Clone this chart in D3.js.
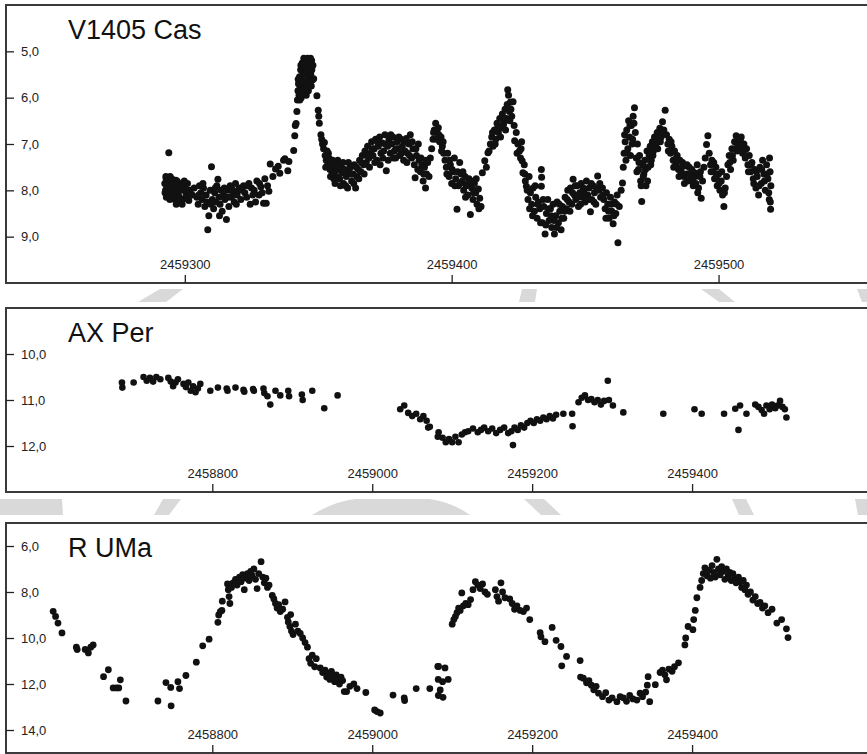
<!DOCTYPE html>
<html>
<head>
<meta charset="utf-8">
<script src="https://cdn.jsdelivr.net/npm/d3@7/dist/d3.min.js"></script>
<style>
  body { margin: 0; background: #fff; }
  text { font-family: "Liberation Sans", Arial, sans-serif; }
</style>
</head>
<body>
<div id="chart"></div>
<script>
// Light curves: [JD, magnitude]
const casData = [
  [2459292.5,7.85],[2459292.8,8.0],[2459293,7.75],[2459293.2,7.95],[2459293.5,8.1],[2459293.8,7.88],[2459294,7.19],[2459294.2,8.05],
  [2459294.5,7.7],[2459294.8,7.92],[2459295,8.15],[2459295.3,7.82],[2459295.6,8.0],[2459296,7.9],[2459296.3,8.2],[2459296.6,7.78],
  [2459297,8.05],[2459297.3,7.95],[2459297.7,8.12],[2459298,7.85],[2459298.4,8.25],[2459298.8,8.0],[2459299.2,7.9],[2459299.6,8.18],
  [2459300,7.95],[2459300.5,8.08],[2459301,7.85],[2459301.5,8.22],[2459302,8.0],[2459302.8,8.1],[2459303.5,7.95],
  [2459304.5,8.15],[2459305,8.3],[2459305.5,7.9],[2459306,8.05],[2459306.5,8.2],[2459307,7.95],[2459307.5,8.35],[2459308,8.1],
  [2459308.6,8.85],[2459309,8.55],[2459309.5,8.0],[2459310,7.49],[2459310.3,8.2],[2459310.8,8.4],[2459311.2,8.05],[2459311.6,8.25],
  [2459312,7.9],[2459312.4,7.76],[2459312.8,8.15],[2459313.2,8.3],[2459313.6,8.0],[2459314,8.45],[2459314.5,8.1],[2459315,8.2],
  [2459315.6,8.63],[2459316,8.0],[2459316.5,8.35],[2459317,7.9],[2459317.5,8.15],[2459318,8.05],[2459318.5,8.25],[2459319,7.85],
  [2459319.6,8.1],[2459320,8.0],[2459320.5,7.95],[2459321,8.2],[2459322,7.9],[2459322.5,8.05],[2459323.2,8.15],[2459324,7.85],
  [2459324.5,8.3],[2459325,7.95],[2459326,8.0],[2459326.5,8.25],[2459327,7.8],[2459327.8,8.1],[2459328.5,7.92],[2459329,8.05],
  [2459329.5,8.28],[2459330,7.75],[2459330.5,8.28],[2459331,7.9],
  [2459332,7.43],[2459333,7.7],[2459334,7.54],[2459335,7.48],[2459335.6,7.63],[2459337,7.35],[2459337.5,7.32],[2459338.6,7.58],
  [2459339,7.38],[2459340.8,7.14],[2459341.2,6.82],[2459341.4,6.6],[2459341.7,6.56],[2459342,6.3],
  [2459342.2,6.05],[2459342.4,5.85],[2459342.6,5.7],[2459342.8,5.95],[2459343,5.55],[2459343.2,5.8],[2459343.4,5.4],[2459343.6,6.0],
  [2459343.8,5.6],[2459344,5.25],[2459344.2,5.75],[2459344.4,5.45],[2459344.6,5.15],[2459344.8,5.9],[2459345,5.35],[2459345.2,5.65],
  [2459345.4,5.2],[2459345.6,5.5],[2459345.8,5.8],[2459346,5.15],[2459346.2,5.4],[2459346.4,5.6],[2459346.6,5.25],[2459346.8,5.7],
  [2459347,5.35],[2459347.2,5.5],[2459347.5,5.2],[2459347.8,5.62],
  [2459348.3,5.59],[2459349.5,5.96],[2459350,6.27],[2459350.2,6.4],[2459350.4,6.55],[2459351,6.8],[2459351.3,6.9],[2459351.6,7.0],
  [2459352,7.1],[2459352.3,6.97],[2459352.6,7.25],[2459353,7.35],[2459353.3,7.15],[2459353.6,7.45],[2459354,7.3],[2459354.4,7.55],
  [2459354.8,7.4],[2459355.2,7.65],[2459355.6,7.5],
  [2459356,7.6],[2459356.5,7.42],[2459357,7.7],[2459357.5,7.55],[2459358,7.75],[2459358.5,7.48],[2459359,7.62],[2459359.5,7.85],
  [2459360,7.55],[2459360.5,7.7],[2459361,7.95],[2459361.5,7.6],[2459362,7.5],[2459362.5,7.8],[2459363,7.65],[2459363.5,7.45],
  [2459364,7.95],[2459364.5,7.7],[2459365,7.55],
  [2459365.5,7.35],[2459366,7.6],[2459366.5,7.25],[2459367,7.45],[2459367.5,7.15],[2459368,7.4],[2459368.5,7.05],[2459369,7.3],
  [2459369.5,7.2],[2459370,6.95],[2459370.5,7.25],[2459371,7.1],[2459371.5,6.9],[2459372,7.35],[2459372.5,7.05],[2459373,6.85],
  [2459373.5,7.2],[2459374,6.98],[2459374.5,7.15],[2459375,6.8],[2459375.5,7.58],[2459376,7.05],[2459376.5,6.9],[2459377,7.2],
  [2459377.5,7.0],[2459378,6.85],[2459378.5,7.15],[2459379,7.3],[2459379.5,6.95],[2459380,7.1],[2459380.5,7.25],[2459381,6.9],
  [2459381.5,7.05],[2459382,7.35],[2459382.5,7.15],[2459383,6.88],[2459383.5,7.2],[2459384,7.0],[2459384.5,6.8],[2459385,7.3],
  [2459385.5,7.1],[2459386,7.45],[2459386.3,7.73],[2459386.8,7.25],[2459387.3,7.55],[2459387.8,7.35],
  [2459388.3,7.6],[2459388.8,7.45],[2459389.3,7.8],[2459389.8,7.5],[2459390.2,7.95],[2459390.6,7.65],[2459391,7.4],[2459391.5,7.7],
  [2459392,7.3],[2459392.5,7.1],[2459393,6.9],[2459393.5,6.7],[2459394,6.55],[2459394.5,6.75],[2459395,6.65],[2459395.5,6.95],
  [2459396,6.85],[2459396.5,7.05],[2459397,7.2],
  [2459397.5,7.35],[2459398,7.5],[2459398.5,7.2],[2459399,7.7],[2459399.5,7.45],[2459400,7.85],[2459400.5,7.6],[2459401,7.3],
  [2459401.5,7.75],[2459402,8.41],[2459402.5,7.9],[2459403,7.4],[2459403.5,7.65],
  [2459404,7.8],[2459404.5,8.0],[2459405,7.7],[2459405.5,7.9],[2459406,8.1],[2459406.5,7.75],[2459407,8.52],[2459407.5,7.95],
  [2459408,8.2],[2459408.5,7.85],[2459409,8.05],[2459409.5,8.3],[2459410,7.97],[2459410.5,8.17],[2459411,8.35],
  [2459411.5,7.62],[2459412.4,7.36],[2459413,7.5],[2459413.6,7.19],[2459414.5,7.0],[2459415,6.85],[2459415.5,7.05],[2459416,6.7],
  [2459416.5,6.9],[2459417,6.55],[2459417.5,6.75],[2459418,6.45],[2459418.5,6.65],[2459419,6.35],[2459419.5,6.55],[2459420,6.25],
  [2459420.5,6.45],[2459420.8,6.15],[2459421,5.83],[2459421.3,5.95],[2459421.6,6.3],[2459422,6.1],[2459422.5,6.4],[2459423,6.09],
  [2459423.4,6.6],
  [2459423.6,6.93],[2459424.2,6.75],[2459424.8,7.0],[2459425.4,7.15],[2459426,7.1],[2459426.4,7.36],[2459426.7,7.62],[2459427.2,7.45],
  [2459427.6,7.8],[2459428,7.91],[2459428.6,8.2],[2459429,7.7],
  [2459429.5,8.05],[2459430,8.3],[2459430.5,7.95],[2459431,8.45],[2459431.5,8.15],[2459432,8.6],[2459432.5,8.25],[2459433,8.4],
  [2459433.6,7.55],[2459433.7,7.72],[2459433.6,7.91],[2459434,8.7],[2459434.5,8.35],[2459435,8.94],[2459435.5,8.5],[2459436,8.2],
  [2459436.5,8.65],[2459437,8.4],[2459437.5,8.8],[2459438,8.3],[2459438.5,8.94],[2459439,8.55],[2459439.5,8.25],[2459440,8.7],
  [2459440.5,8.45],[2459441,8.85],[2459441.5,8.35],[2459442,8.6],
  [2459442.5,8.15],[2459443,8.4],[2459443.5,8.0],[2459444,8.25],[2459444.5,7.95],[2459445,8.3],[2459445.5,7.76],[2459446,8.1],
  [2459446.5,8.2],[2459447,7.9],[2459447.5,8.35],[2459448,8.05],[2459448.5,7.85],[2459449,8.15],[2459449.5,8.0],[2459450,8.25],
  [2459450.5,7.8],[2459451,8.1],[2459451.5,7.95],[2459452,8.46],[2459452.5,8.2],[2459453,7.9],[2459453.5,8.05],[2459454,8.3],
  [2459454.7,7.69],[2459455.2,8.0],[2459455.8,8.15],
  [2459456.5,7.95],[2459457,8.2],[2459457.5,8.4],[2459458,8.05],[2459458.5,8.3],[2459459,8.6],[2459459.5,8.15],[2459460,8.45],
  [2459460.5,8.72],[2459461,8.25],[2459461.5,8.5],[2459462,8.1],[2459462.3,9.13],[2459462.8,8.35],
  [2459463.5,8.0],[2459464,7.84],[2459464.3,7.5],[2459464.6,7.2],[2459465,6.95],[2459465.3,7.35],[2459465.6,6.7],[2459466,7.1],
  [2459466.3,6.5],[2459466.6,6.85],[2459467,7.25],[2459467.3,6.6],[2459467.6,7.0],[2459468,6.4],[2459468.5,6.22],[2459468.8,6.75],
  [2459469.2,7.3],[2459469.6,7.0],[2459470,7.55],[2459470.4,7.25],[2459470.8,7.8],[2459471.2,8.24],[2459471.6,7.45],[2459472,7.65],
  [2459472.4,7.35],[2459472.8,7.9],[2459473.2,7.15],[2459473.6,7.5],
  [2459474,7.25],[2459474.4,7.05],[2459474.8,7.35],[2459475.2,6.95],[2459475.6,7.15],[2459476,6.85],[2459476.5,7.05],[2459477,6.75],
  [2459477.5,6.9],[2459478,6.66],[2459478.5,6.85],[2459479,6.52],[2459479.5,6.7],[2459480,6.27],
  [2459480.5,6.8],[2459481,7.0],[2459481.5,6.9],[2459482,7.2],[2459482.5,7.05],[2459483,7.35],[2459483.5,7.15],[2459484,7.45],
  [2459484.5,7.25],[2459485,7.55],[2459485.5,7.35],[2459486,7.6],[2459486.5,7.4],[2459487,7.7],[2459487.5,7.47],[2459488,7.65],
  [2459488.5,7.8],[2459489,7.5],[2459489.5,7.75],[2459490,7.55],[2459490.5,7.9],[2459491,7.62],[2459491.5,7.85],[2459492,7.45],
  [2459492.5,7.95],[2459493,7.7],[2459493.5,8.17],[2459494,7.8],
  [2459494.5,7.5],[2459495,7.3],[2459495.5,7.01],[2459496,6.82],[2459496.5,7.2],[2459497,7.45],[2459497.5,7.35],[2459498,7.6],
  [2459498.5,7.75],[2459499,7.5],[2459499.5,7.9],[2459500,7.65],[2459500.5,8.0],[2459501,7.8],[2459501.5,8.1],[2459502,8.35],
  [2459502.5,7.95],
  [2459503,7.7],[2459503.5,7.45],[2459504,7.25],[2459504.5,7.55],[2459505,7.1],[2459505.5,7.35],[2459506,6.95],[2459506.6,6.82],
  [2459507,7.15],[2459507.5,6.9],[2459508,7.05],[2459508.5,6.85],[2459509,7.2],[2459509.5,7.0],[2459510,7.3],[2459510.5,7.1],
  [2459511,7.45],[2459511.5,7.25],[2459512,7.6],[2459512.5,7.4],[2459513,7.75],[2459513.5,7.55],[2459514,7.95],[2459514.5,7.7],
  [2459515,8.1],[2459515.5,7.5],[2459516,7.85],[2459516.5,7.35],[2459517,7.65],[2459517.5,8.0],[2459518,7.45],[2459518.5,7.75],
  [2459519,8.2],[2459519.3,7.6],[2459519.5,8.41],[2459519.6,7.9],
  // denser parts of the curve
  [2459292.6,8.05],[2459292.9,7.7],[2459293.1,8.15],[2459293.4,7.8],[2459293.7,8.02],[2459294.1,7.9],[2459294.4,8.2],[2459294.7,8.05],
  [2459295.1,7.75],[2459295.5,8.1],[2459295.9,7.98],[2459296.2,7.85],[2459296.8,8.3],[2459297.1,7.8],[2459297.5,8.0],[2459298.2,7.9],
  [2459299,8.3],[2459299.8,7.8],[2459300.8,8.0],[2459301.8,8.1],
  [2459305.2,8.1],[2459306.8,7.85],[2459308.3,8.25],[2459309.8,8.3],[2459311.4,7.95],[2459313,8.55],[2459314.8,7.95],[2459316.2,8.15],
  [2459317.8,7.98],[2459319.3,8.3],[2459321.5,8.0],[2459323.6,7.9],[2459325.5,8.1],[2459328,7.85],[2459331.5,8.02],
  [2459342.5,5.6],[2459343.1,6.05],[2459343.5,5.3],[2459343.9,5.85],[2459344.3,5.5],[2459344.7,5.3],[2459345.1,5.75],[2459345.5,5.95],
  [2459345.9,5.3],[2459346.3,5.85],[2459346.7,5.45],[2459347.1,5.15],[2459347.4,5.75],[2459347.6,5.4],[2459348,5.3],
  [2459352.8,7.5],[2459353.8,7.2],[2459354.6,7.7],[2459355.4,7.35],[2459355.8,7.75],
  [2459356.3,7.85],[2459357.3,7.35],[2459358.3,7.9],[2459359.3,7.4],[2459360.3,7.9],[2459361.3,7.4],[2459362.3,7.65],[2459363.3,7.85],
  [2459364.3,7.5],[2459365.2,7.75],
  [2459366.2,7.4],[2459367.2,7.65],[2459368.2,7.25],[2459369.2,7.5],[2459370.2,7.1],[2459371.2,7.4],[2459372.2,6.95],[2459373.2,7.45],
  [2459374.2,7.3],[2459375.2,7.0],[2459376.2,7.35],[2459377.2,6.8],[2459378.2,7.3],[2459379.2,7.1],[2459380.2,6.85],[2459381.2,7.2],
  [2459382.2,6.95],[2459383.2,7.4],[2459384.2,7.25],[2459385.2,6.95],[2459386.6,7.1],[2459387.5,7.0],[2459388.5,7.3],[2459389.5,7.65],
  [2459390.4,7.35],
  [2459393.2,6.75],[2459394.2,6.9],[2459395.2,6.8],[2459396.2,7.15],[2459396.8,6.95],
  [2459398.2,7.65],[2459399.2,7.35],[2459400.2,7.55],[2459401.2,7.9],[2459402.2,7.6],[2459403.2,7.85],[2459404.2,7.6],[2459405.2,8.15],
  [2459406.2,7.85],[2459407.2,7.8],[2459408.2,8.05],[2459409.2,7.75],[2459410.2,8.4],
  [2459414,7.15],[2459415.3,6.75],[2459416.3,7.0],[2459417.3,6.65],[2459418.3,6.85],[2459419.3,6.6],[2459420.2,6.7],[2459421.8,6.5],
  [2459422.2,6.25],
  [2459424.5,7.2],[2459425.8,7.3],[2459426.2,6.95],[2459427.4,7.65],[2459428.3,8.0],[2459429.2,8.4],
  [2459430.3,8.55],[2459431.3,7.9],[2459432.3,8.3],[2459433.3,8.7],[2459434.3,8.2],[2459435.3,8.75],[2459436.3,8.4],[2459437.3,8.55],
  [2459438.3,8.65],[2459439.3,8.8],[2459440.3,8.3],[2459441.3,8.6],[2459442.3,8.45],
  [2459443.3,8.2],[2459444.3,8.45],[2459445.3,8.05],[2459446.3,7.9],[2459447.3,8.15],[2459448.3,8.3],[2459449.3,7.95],[2459450.3,8.1],
  [2459451.3,8.2],[2459452.3,7.85],[2459453.3,8.25],[2459454.3,7.95],[2459455.5,7.85],
  [2459456.8,8.1],[2459457.8,8.6],[2459458.8,8.45],[2459459.8,8.3],[2459460.8,8.55],[2459461.8,8.3],
  [2459464.8,6.8],[2459465.8,7.2],[2459466.8,6.6],[2459467.8,6.9],[2459468.3,6.55],
  [2459469.4,7.6],[2459470.2,7.4],[2459471,7.9],[2459471.8,7.7],[2459472.6,7.55],[2459473.4,7.8],
  [2459474.6,7.45],[2459475.4,7.25],[2459476.2,7.0],[2459477.2,7.1],[2459478.2,6.95],[2459479.2,6.75],
  [2459481.2,7.15],[2459482.2,6.95],[2459483.2,7.5],[2459484.2,7.3],[2459485.2,7.7],[2459486.2,7.5],[2459487.2,7.85],[2459488.2,7.45],
  [2459489.2,7.65],[2459490.2,7.8],[2459491.2,7.7],[2459492.2,8.05],[2459493.2,7.6],
  [2459497.2,7.6],[2459498.2,7.4],[2459499.2,7.7],[2459500.2,7.85],[2459501.2,7.6],[2459502.2,8.05],
  [2459504.2,7.4],[2459505.2,7.25],[2459506.2,7.1],[2459507.2,7.0],[2459508.2,6.9],[2459509.2,7.1],[2459510.2,7.25],
  [2459511.2,7.6],[2459512.2,7.45],[2459513.2,7.85],[2459514.2,7.6],[2459515.2,7.9],[2459516.2,7.55],[2459517.2,7.8],[2459518.2,7.65],
  [2459518.8,8.05],[2459519.1,7.3],[2459519.4,8.25]
];

const axData = [
  [2458687,10.62],[2458687.5,10.73],[2458701.6,10.62],[2458714,10.5],[2458718,10.58],[2458722,10.52],[2458726,10.6],[2458730,10.5],
  [2458735,10.55],[2458745,10.52],[2458748,10.6],[2458751,10.7],[2458754,10.62],[2458757,10.55],[2458764,10.65],[2458767,10.72],
  [2458770,10.62],[2458773,10.8],[2458776,10.7],[2458779,10.83],[2458782,10.75],[2458785,10.65],[2458797.5,10.8],[2458807,10.73],
  [2458818,10.75],[2458819,10.8],[2458829,10.73],[2458839,10.78],[2458840,10.82],[2458851,10.76],[2458852,10.8],[2458864,10.75],
  [2458865,10.85],[2458869,10.92],[2458872.5,11.1],[2458879,10.8],[2458885,10.9],[2458895,10.8],[2458896,10.92],[2458912,10.88],
  [2458913,11.0],[2458925,10.8],[2458940,11.18],[2458956.7,10.9],
  [2459035,11.2],[2459040,11.12],[2459045,11.28],[2459050,11.35],[2459055,11.3],[2459060,11.42],[2459064,11.35],[2459068,11.45],
  [2459070,11.6],[2459072,11.58],[2459082,11.8],[2459083,11.7],[2459088,11.82],[2459092,11.92],[2459096,11.85],[2459100,11.92],
  [2459104,11.8],[2459108,11.92],[2459112,11.75],[2459116,11.7],[2459120,11.68],[2459126,11.62],[2459132,11.7],[2459136,11.65],
  [2459140,11.6],[2459145,11.68],[2459150,11.62],[2459155,11.72],[2459160,11.65],[2459165,11.6],[2459170,11.72],[2459174,11.68],
  [2459176,11.98],[2459178,11.6],[2459182,11.65],[2459186,11.55],[2459190,11.6],[2459194,11.5],[2459198,11.45],[2459202,11.5],
  [2459206,11.42],[2459210,11.45],[2459214,11.38],[2459218,11.42],[2459222,11.35],[2459226,11.4],[2459230,11.32],[2459239,11.3],
  [2459250,11.3],[2459250.5,11.57],[2459258,11.05],[2459262,10.95],[2459266,10.9],[2459270,11.0],[2459274,10.98],[2459278,11.05],
  [2459282,11.0],[2459286,11.1],[2459290,11.02],[2459294.6,10.58],[2459296,11.0],[2459301,11.12],[2459314,11.27],[2459364,11.3],
  [2459403,11.2],[2459412,11.3],[2459440,11.3],[2459454,11.19],[2459458,11.65],[2459460,11.12],[2459468,11.3],[2459479,11.1],
  [2459483,11.15],[2459487,11.22],[2459490,11.3],[2459493,11.12],[2459497,11.2],[2459500,11.1],[2459504,11.18],[2459507,11.12],
  [2459510,11.02],[2459513,11.15],[2459516,11.2],[2459518,11.38]
];

const rumaData = [
  [2458601,8.84],[2458604,9.06],[2458607,9.35],[2458612,9.78],[2458630,10.4],[2458631,10.5],[2458641,10.5],[2458645,10.65],
  [2458648,10.4],[2458651,10.3],[2458664,11.68],[2458670,11.38],[2458676,12.17],[2458680,12.17],[2458683,12.17],[2458685,11.82],
  [2458692,12.74],[2458732,12.74],[2458742,11.94],[2458748,12.15],[2458748.5,12.95],[2458757,11.9],[2458759,12.2],[2458767,11.63],
  [2458780,11.05],[2458788,10.34],[2458796,10.05],[2458807,9.32],[2458808,9.0],[2458810,8.85],[2458812,8.8],[2458812.5,8.4],
  [2458819,7.65],[2458820,7.9],[2458821,8.2],[2458822,8.5],[2458824,7.8],[2458826,7.6],[2458829,7.45],[2458831,7.7],[2458834,7.35],
  [2458836,7.55],[2458838,7.25],[2458840,7.9],[2458842,7.4],[2458844,7.2],[2458846,7.5],[2458848,7.1],[2458850,7.3],[2458852,7.0],
  [2458854,7.45],[2458856,7.85],[2458858,7.2],[2458861,6.68],[2458863,7.35],[2458865,7.6],[2458867,7.4],[2458869,7.8],[2458871,7.7],
  [2458875,8.15],[2458877,8.3],[2458879,8.5],[2458881,8.7],[2458883,8.55],[2458885,8.85],[2458888,8.75],[2458891,8.43],
  [2458894,9.1],[2458895,9.3],[2458897,9.5],[2458898,8.98],[2458899,9.7],[2458901,9.85],[2458904,9.4],[2458907,9.7],[2458910,9.8],
  [2458913,10.0],[2458916,10.2],[2458919,10.4],[2458921,10.9],[2458923,11.1],[2458925,10.75],[2458928,11.25],[2458930,10.9],
  [2458935,11.3],[2458938,11.5],[2458941,11.4],[2458943,11.7],[2458945,11.55],[2458947,11.8],[2458949,11.45],[2458951,11.65],
  [2458953,11.9],[2458955,11.6],[2458957,11.75],[2458959,12.0],[2458961,11.7],[2458963,11.85],[2458965,12.33],[2458968,12.33],
  [2458972,12.1],[2458977,12.0],[2458981,12.2],[2458992,12.37],[2459003,13.13],[2459006,13.2],[2459010,13.26],[2459026,12.48],
  [2459040,12.6],[2459040.5,12.72],[2459055,12.2],[2459072,12.2],[2459082,11.24],[2459082.5,11.8],[2459082.7,12.5],
  [2459083,11.24],[2459085,12.26],[2459091,11.3],[2459088,11.9],[2459095,11.8],[2459088.5,12.58],
  [2459100,9.4],[2459102,9.2],[2459104,9.07],[2459106,8.9],[2459108,8.7],[2459110,8.8],[2459112,8.04],[2459114,8.6],[2459117,8.5],
  [2459120,8.55],[2459123,8.33],[2459126,7.9],[2459129,7.55],[2459132,7.7],[2459135,7.85],[2459138,7.65],[2459141,8.0],
  [2459144,8.1],[2459154,7.9],[2459156,8.2],[2459158,8.4],[2459161,7.6],[2459163,8.0],[2459166,8.25],[2459172,8.3],[2459175,8.5],
  [2459178,8.75],[2459181,8.6],[2459185,8.8],[2459189,8.85],[2459193,8.7],[2459197,9.2],[2459210,9.77],[2459211,9.95],
  [2459216,10.16],[2459225,9.54],[2459230,10.1],[2459236,10.37],[2459237,11.21],[2459243,10.8],[2459260,10.98],[2459260.5,11.7],
  [2459264,11.75],[2459268,11.95],[2459271,11.85],[2459274,12.05],[2459277,12.25],[2459280,12.1],[2459283,12.4],[2459288,12.55],
  [2459292,12.38],[2459296,12.7],[2459300,12.6],[2459306,12.77],[2459310,12.55],[2459314,12.6],[2459318,12.75],[2459322,12.5],
  [2459326,12.65],[2459331,12.7],[2459335,12.4],[2459338,12.55],[2459342,12.35],[2459344,12.05],[2459345,11.68],[2459347,12.77],
  [2459354,12.03],[2459360,11.5],[2459363,11.4],[2459366,11.6],[2459368,11.82],[2459371,11.35],[2459375,11.45],[2459378,11.25],
  [2459383,11.08],[2459391,10.3],[2459392,10.0],[2459395,9.5],[2459401,9.64],[2459402,9.2],[2459404,8.8],[2459406,8.25],
  [2459410,7.8],[2459412,7.5],[2459414,7.2],[2459416,6.95],[2459419,7.3],[2459421,7.05],[2459423,7.4],[2459425,6.85],
  [2459427,7.15],[2459429,7.35],[2459431,6.58],[2459433,7.0],[2459435,7.25],[2459437,6.9],[2459439,7.1],[2459441,7.45],
  [2459443,7.0],[2459445,7.3],[2459447,7.15],[2459449,7.5],[2459451,7.2],[2459453,7.4],[2459455,7.6],[2459458,7.35],
  [2459460,7.55],[2459462,7.8],[2459464,7.5],[2459466,7.9],[2459468,7.7],[2459470,8.1],[2459473,8.0],[2459476,8.35],
  [2459479,8.2],[2459482,8.5],[2459485,8.45],[2459488,8.7],[2459491,8.6],[2459495,8.9],[2459500,8.75],[2459506,9.35],
  [2459512,9.2],[2459518,9.6],[2459520,9.98]
];

const casXTicks = [2459300, 2459400, 2459500];
const casYTicks = [5, 6, 7, 8, 9];
const axXTicks = [2458800, 2459000, 2459200, 2459400];
const axYTicks = [10, 11, 12];
const rumaXTicks = [2458800, 2459000, 2459200, 2459400];
const rumaYTicks = [6, 8, 10, 12, 14];
const starNames = ["V1405 Cas", "AX Per", "R UMa"];

const width = 867;
const height = 754;

const svg = d3.select("#chart")
  .append("svg")
  .attr("width", width)
  .attr("height", height);

svg.append("rect").attr("width", width).attr("height", height).attr("fill", "#fff");

// faint watermark showing between the panels
const wm = svg.append("g").attr("fill", "#d9d9d9");
[
  "M160,289L183,289L166,302L138,302Z",
  "M522,289L537,289L535,302L519,302Z",
  "M701,289L719,289L735,302L719,302Z",
  "M857,289L867,289L867,302L862,302Z",
  "M0,499L62,499L63,515L0,515Z",
  "M163,499L181,499L169,515L154,515Z",
  "M312,515Q335,501 356,499L429,499Q452,502 470,515Z",
  "M524,499L544,499L561,515L541,515Z",
  "M732,499L746,499L754,515L739,515Z",
  "M855,499L867,499L867,515L858,515Z"
].forEach(d => wm.append("path").attr("d", d));

const commaFmt = d => d3.format(".1f")(d).replace(".", ",");

const panels = [
  { name: starNames[0], data: casData, x: [2459233, 2459556], y: [4, 10], xt: casXTicks, yt: casYTicks, top: 5, bottom: 283, r: 3.5 },
  { name: starNames[1], data: axData, x: [2458542, 2459620], y: [9, 13], xt: axXTicks, yt: axYTicks, top: 308, bottom: 492, r: 3.3 },
  { name: starNames[2], data: rumaData, x: [2458542, 2459620], y: [5, 15], xt: rumaXTicks, yt: rumaYTicks, top: 523, bottom: 753, r: 3.4 }
];

const left = 6, right = 868;

panels.forEach(p => {
  const g = svg.append("g");

  const x = d3.scaleLinear().domain(p.x).range([left, right]);
  const y = d3.scaleLinear().domain(p.y).range([p.top, p.bottom]);

  g.append("rect")
    .attr("x", left).attr("y", p.top)
    .attr("width", right - left).attr("height", p.bottom - p.top)
    .attr("fill", "#fff")
    .attr("stroke", "#3a3a3a")
    .attr("stroke-width", 2);

  const ya = g.append("g")
    .attr("transform", `translate(${left},0)`)
    .call(d3.axisRight(y).tickValues(p.yt).tickSize(8).tickPadding(7).tickFormat(commaFmt));
  ya.select(".domain").remove();

  const xa = g.append("g")
    .attr("transform", `translate(0,${p.bottom})`)
    .call(d3.axisTop(x).tickValues(p.xt).tickSize(8).tickPadding(6).tickFormat(d3.format("d")));
  xa.select(".domain").remove();

  g.selectAll(".tick line").attr("stroke", "#222").attr("stroke-width", 1.3);
  g.selectAll(".tick text")
    .attr("fill", "#222")
    .style("font-size", "13px")
    .style("font-family", "'Liberation Sans', Arial, sans-serif");

  g.append("text")
    .attr("x", 68)
    .attr("y", p.top + 34)
    .attr("fill", "#111")
    .style("font-size", "27px")
    .text(p.name);

  g.append("g")
    .selectAll("circle")
    .data(p.data)
    .join("circle")
    .attr("cx", d => x(d[0]))
    .attr("cy", d => y(d[1]))
    .attr("r", p.r)
    .attr("fill", "#111");
});
</script>
</body>
</html>
